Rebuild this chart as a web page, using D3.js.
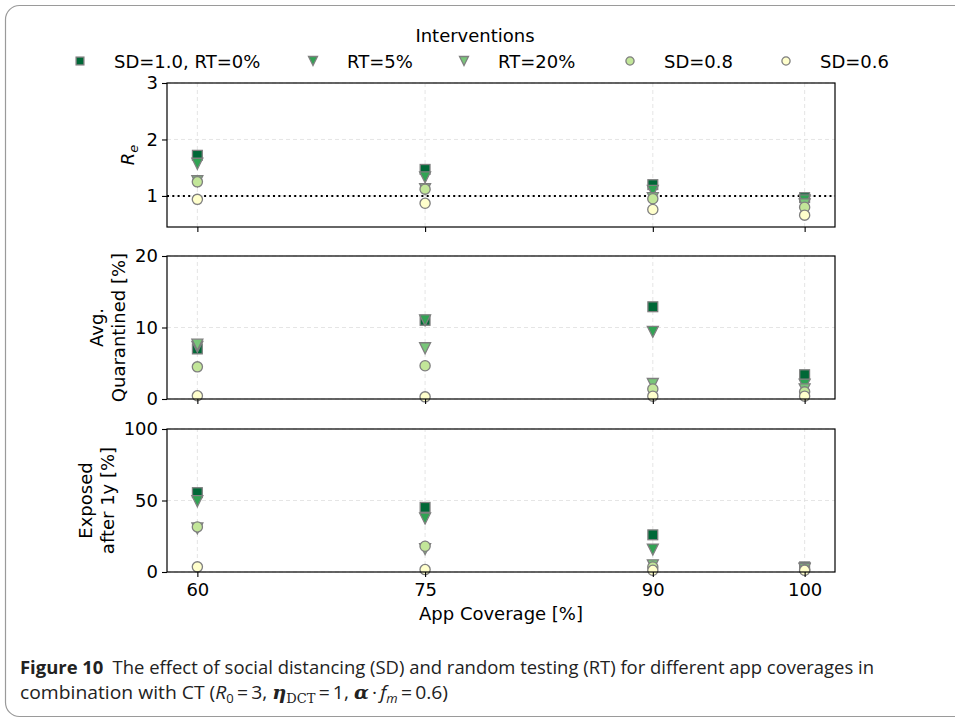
<!DOCTYPE html>
<html>
<head>
<meta charset="utf-8">
<script src="https://cdn.jsdelivr.net/npm/d3@7"></script>
<style>
  body { margin: 0; background: #fff; }
  svg { display: block; font-family: "DejaVu Sans", sans-serif; }
  .grid line { stroke: #dedede; stroke-dasharray: 4 3; stroke-width: 0.8; }
  .axis path, .axis line { stroke: #000; stroke-width: 1.1; }
  .axis text { font-family: "DejaVu Sans", sans-serif; font-size: 18px; fill: #000; }
</style>
</head>
<body>
<svg id="chart" width="955" height="721"></svg>
<script>
// App coverage categories on the x axis
const coverage = [60, 75, 90, 100];

// Interventions (legend order = draw order)
const seriesNames = ['SD=1.0, RT=0%', 'RT=5%', 'RT=20%', 'SD=0.8', 'SD=0.6'];
const seriesShapes = ['square', 'triangle', 'triangle', 'circle', 'circle'];
const seriesColors = ['#006837', '#31a354', '#78c679', '#c2e699', '#ffffcc'];

// Panel 1: effective reproduction number R_e
const reSD10 = [1.72, 1.47, 1.20, 0.97];
const reRT5 = [1.57, 1.33, 1.09, 0.92];
const reRT20 = [1.26, 1.12, 0.96, 0.85];
const reSD08 = [1.25, 1.12, 0.95, 0.80];
const reSD06 = [0.94, 0.87, 0.76, 0.66];

// Panel 2: average quarantined [%]
const quarSD10 = [7.0, 11.0, 12.9, 3.4];
const quarRT5 = [7.3, 11.0, 9.4, 2.0];
const quarRT20 = [7.6, 7.1, 2.1, 1.35];
const quarSD08 = [4.5, 4.65, 1.4, 1.0];
const quarSD06 = [0.45, 0.3, 0.4, 0.4];

// Panel 3: exposed after 1 year [%]
const expSD10 = [55.5, 45.2, 26.0, 3.6];
const expRT5 = [49.5, 37.4, 15.7, 2.5];
const expRT20 = [30.5, 16.0, 4.7, 2.0];
const expSD08 = [31.5, 18.0, 3.5, 1.5];
const expSD06 = [3.6, 1.7, 1.2, 1.2];

// Tick values
const reTicks = [1, 2, 3];
const quarTicks = [0, 10, 20];
const expTicks = [0, 50, 100];

const svg = d3.select('#chart');

// frame around figure + caption
svg.append('rect')
    .attr('x', 5.5).attr('y', 5.5)
    .attr('width', 1000).attr('height', 711)
    .attr('rx', 14)
    .attr('fill', 'none')
    .attr('stroke', '#9a9a9a')
    .attr('stroke-width', 1.2);

const xScale = d3.scaleLinear().domain([58, 102]).range([167, 835]);

const panels = [
    { values: [reSD10, reRT5, reRT20, reSD08, reSD06], domain: [0.45, 3], range: [227, 83], ticks: reTicks, refLine: 1 },
    { values: [quarSD10, quarRT5, quarRT20, quarSD08, quarSD06], domain: [0, 20], range: [399, 256], ticks: quarTicks },
    { values: [expSD10, expRT5, expRT20, expSD08, expSD06], domain: [0, 100], range: [572, 429], ticks: expTicks, xLabels: true }
];

// Marker drawing helper (size ~10px like matplotlib markers)
function drawMarker(sel, shape, color, s) {
    const h = s / 2;
    let m;
    if (shape === 'square') {
        m = sel.append('rect').attr('x', -h + 0.6).attr('y', -h + 0.6)
            .attr('width', s - 1.2).attr('height', s - 1.2);
    } else if (shape === 'triangle') {
        m = sel.append('path').attr('d', `M${-h},${-h}L${h},${-h}L0,${h}Z`);
    } else {
        m = sel.append('circle').attr('r', h - 0.4);
    }
    m.attr('fill', color).attr('stroke', '#7f7f7f').attr('stroke-width', 1.3);
    return m;
}

panels.forEach(p => {
    const yScale = d3.scaleLinear().domain(p.domain).range(p.range);
    const g = svg.append('g');

    // grid
    const grid = g.append('g').attr('class', 'grid');
    grid.selectAll('.gx').data(coverage).enter().append('line')
        .attr('x1', d => xScale(d)).attr('x2', d => xScale(d))
        .attr('y1', p.range[0]).attr('y2', p.range[1]);
    grid.selectAll('.gy').data(p.ticks).enter().append('line')
        .attr('x1', xScale.range()[0]).attr('x2', xScale.range()[1])
        .attr('y1', d => yScale(d)).attr('y2', d => yScale(d));

    // reference line R_e = 1
    if (p.refLine !== undefined) {
        g.append('line')
            .attr('x1', xScale.range()[0]).attr('x2', xScale.range()[1])
            .attr('y1', yScale(p.refLine)).attr('y2', yScale(p.refLine))
            .attr('stroke', '#000').attr('stroke-width', 2)
            .attr('stroke-dasharray', '2 3.3');
    }

    // points
    p.values.forEach((vals, i) => {
        g.append('g').selectAll('g').data(vals).enter().append('g')
            .attr('transform', (d, j) => `translate(${xScale(coverage[j])},${yScale(d)})`)
            .each(function() { drawMarker(d3.select(this), seriesShapes[i], seriesColors[i], 11); });
    });

    // axes frame
    g.append('rect')
        .attr('x', xScale.range()[0]).attr('y', p.range[1])
        .attr('width', xScale.range()[1] - xScale.range()[0])
        .attr('height', p.range[0] - p.range[1])
        .attr('fill', 'none').attr('stroke', '#000').attr('stroke-width', 1.2);

    const xAxis = d3.axisBottom(xScale).tickValues(coverage).tickSize(5).tickPadding(6)
        .tickFormat(p.xLabels ? d3.format('d') : '');
    g.append('g').attr('class', 'axis')
        .attr('transform', `translate(0,${p.range[0]})`)
        .call(xAxis)
        .call(a => a.select('.domain').remove());

    g.append('g').attr('class', 'axis')
        .attr('transform', `translate(${xScale.range()[0]},0)`)
        .call(d3.axisLeft(yScale).tickValues(p.ticks).tickFormat(d3.format('d')).tickSize(5).tickPadding(4))
        .call(a => a.select('.domain').remove());
});

// y labels
const reLabel = svg.append('text')
    .attr('transform', 'translate(134,155) rotate(-90)')
    .attr('text-anchor', 'middle')
    .style('font-size', '18px');
reLabel.append('tspan').attr('font-style', 'italic').text('R');
reLabel.append('tspan').attr('font-style', 'italic').attr('dy', 4).style('font-size', '13px').text('e');

function twoLineLabel(cx, cy, lines) {
    lines.forEach((t, i) => {
        svg.append('text')
            .attr('transform', `translate(${cx - (lines.length - 1 - i) * 22},${cy}) rotate(-90)`)
            .attr('text-anchor', 'middle')
            .style('font-size', '18px')
            .text(t);
    });
}
twoLineLabel(125, 327.5, ['Avg.', 'Quarantined [%]']);
twoLineLabel(114, 500.5, ['Exposed', 'after 1y [%]']);

// x label
svg.append('text')
    .attr('x', 501).attr('y', 620)
    .attr('text-anchor', 'middle')
    .style('font-size', '18px')
    .text('App Coverage [%]');

// legend
svg.append('text')
    .attr('x', 475).attr('y', 42)
    .attr('text-anchor', 'middle')
    .style('font-size', '18px')
    .text('Interventions');

const legendX = [80, 313, 464, 630, 786];
seriesNames.forEach((name, i) => {
    const lg = svg.append('g').attr('transform', `translate(${legendX[i]},61)`);
    drawMarker(lg, seriesShapes[i], seriesColors[i], 9);
    lg.append('text').attr('x', 34).attr('y', 6.5)
        .style('font-size', '18px')
        .text(name);
});

// caption
const cap1 = svg.append('text')
    .attr('x', 20).attr('y', 674)
    .style('font-family', '"Open Sans", "Noto Sans", sans-serif')
    .style('font-size', '18.5px')
    .attr('fill', '#222');
cap1.append('tspan').attr('font-weight', 'bold').text('Figure 10');
cap1.append('tspan').text('\u2002The effect of social distancing (SD) and random testing (RT) for different app coverages in');

const cap2 = svg.append('text')
    .attr('x', 20).attr('y', 699)
    .style('font-family', '"Open Sans", "Noto Sans", sans-serif')
    .style('font-size', '18.5px')
    .attr('fill', '#222');
cap2.append('tspan').text('combination with CT (');
cap2.append('tspan').attr('font-style', 'italic').text('R');
cap2.append('tspan').attr('dy', 4).style('font-size', '12.5px').text('0');
cap2.append('tspan').attr('dy', -4).text('\u2009=\u20093, ');
cap2.append('tspan').attr('font-style', 'italic').attr('font-weight', 'bold')
    .style('font-family', '"DejaVu Serif", serif').text('\u03b7');
cap2.append('tspan').attr('dy', 4).style('font-size', '12.5px')
    .style('font-family', '"DejaVu Serif", serif').text('DCT');
cap2.append('tspan').attr('dy', -4).text('\u2009=\u20091, ');
cap2.append('tspan').attr('font-weight', 'bold').attr('font-style', 'italic')
    .style('font-family', '"DejaVu Serif", serif').text('\u03b1');
cap2.append('tspan').text('\u2009\u00b7\u2009');
cap2.append('tspan').attr('font-style', 'italic').text('f');
cap2.append('tspan').attr('dy', 4).attr('font-style', 'italic').style('font-size', '12.5px').text('m');
cap2.append('tspan').attr('dy', -4).text('\u2009=\u20090.6)');

// fit caption lines to the width seen in the figure
cap1.attr('textLength', 854).attr('lengthAdjust', 'spacingAndGlyphs');
cap2.attr('textLength', 428).attr('lengthAdjust', 'spacingAndGlyphs');
</script>
</body>
</html>
